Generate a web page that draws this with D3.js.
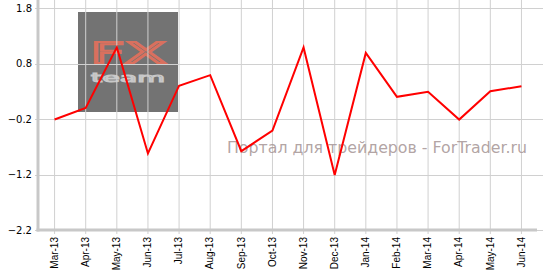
<!DOCTYPE html>
<html>
<head>
<meta charset="utf-8">
<script src="https://cdn.jsdelivr.net/npm/d3@7"></script>
<style>
    body { margin: 0; background: #fff; }
    svg { display: block; }
</style>
</head>
<body>
<div id="chart"></div>
<script>
'use strict';

const months = ["Mar-13", "Apr-13", "May-13", "Jun-13", "Jul-13", "Aug-13", "Sep-13", "Oct-13",
    "Nov-13", "Dec-13", "Jan-14", "Feb-14", "Mar-14", "Apr-14", "May-14", "Jun-14"];
const values = [-0.21, 0.0, 1.09, -0.82, 0.40, 0.59, -0.78, -0.41,
    1.09, -1.21, 0.99, 0.20, 0.29, -0.21, 0.30, 0.39];
const yTicks = [1.8, 0.8, -0.2, -1.2, -2.2];
const watermark = "Портал для трейдеров - ForTrader.ru";

const width = 543, height = 273;
const left = 39, right = 537, bottom = 230;

const svg = d3.select("#chart").append("svg")
    .attr("width", width)
    .attr("height", height);

const x = d3.scaleBand().domain(months).range([left, right]);
const y = d3.scaleLinear().domain([-2.2, 1.8]).range([bottom, 8]);

// logo box behind the grid
const logo = svg.append("g");
logo.append("rect")
    .attr("x", 78).attr("y", 12)
    .attr("width", 100).attr("height", 100)
    .attr("fill", "#737373");
logo.append("text")
    .attr("x", 128).attr("y", 63)
    .attr("text-anchor", "middle")
    .attr("font-family", "DejaVu Sans")
    .attr("font-size", 28)
    .attr("fill", "#737373")
    .attr("stroke", "#d9705e")
    .attr("stroke-width", 2)
    .attr("textLength", 76)
    .attr("lengthAdjust", "spacingAndGlyphs")
    .text("FX");
logo.append("text")
    .attr("x", 128).attr("y", 82)
    .attr("text-anchor", "middle")
    .attr("font-family", "DejaVu Sans")
    .attr("font-size", 12)
    .attr("fill", "#737373")
    .attr("stroke", "#c8c8c8")
    .attr("stroke-width", 1)
    .attr("textLength", 74)
    .attr("lengthAdjust", "spacingAndGlyphs")
    .text("team");

// grid
svg.append("g")
    .selectAll("line")
    .data(months)
    .join("line")
    .attr("x1", d => x(d) + x.bandwidth() / 2)
    .attr("x2", d => x(d) + x.bandwidth() / 2)
    .attr("y1", 0)
    .attr("y2", bottom + 4)
    .attr("stroke", "#d0d0d0");

svg.append("g")
    .selectAll("line")
    .data(yTicks)
    .join("line")
    .attr("x1", left - 4)
    .attr("x2", width)
    .attr("y1", d => Math.round(y(d)) + 0.5)
    .attr("y2", d => Math.round(y(d)) + 0.5)
    .attr("stroke", "#d0d0d0");

// axes
const yAxis = svg.append("g")
    .attr("transform", `translate(${left - 1},0)`)
    .call(d3.axisLeft(y).tickValues(yTicks).tickSize(0).tickPadding(6).tickFormat(d3.format(".1f")));
yAxis.select(".domain").remove();
yAxis.selectAll("text")
    .attr("font-family", "DejaVu Sans")
    .attr("font-size", 10)
    .attr("fill", "#000");

const xAxis = svg.append("g")
    .attr("transform", `translate(0,${bottom})`)
    .call(d3.axisBottom(x).tickSize(0).tickPadding(6));
xAxis.select(".domain").remove();
xAxis.selectAll("text")
    .attr("font-family", "Liberation Sans")
    .attr("font-size", 10)
    .attr("fill", "#000")
    .attr("text-anchor", "end")
    .attr("dy", "0.32em")
    .attr("transform", "rotate(-90)")
    .attr("x", -7)
    .attr("y", 0);

svg.append("line")
    .attr("x1", left - 1).attr("x2", left - 1)
    .attr("y1", 0).attr("y2", bottom + 1.5)
    .attr("stroke", "#c8c8c8").attr("stroke-width", 3);
svg.append("line")
    .attr("x1", left - 2.5).attr("x2", right)
    .attr("y1", bottom).attr("y2", bottom)
    .attr("stroke", "#c8c8c8").attr("stroke-width", 3);

// site watermark
svg.append("text")
    .attr("x", 227).attr("y", 153)
    .attr("font-family", "DejaVu Sans")
    .attr("font-size", 16)
    .attr("fill", "#a99999")
    .attr("fill-opacity", 0.9)
    .attr("textLength", 300)
    .attr("lengthAdjust", "spacingAndGlyphs")
    .text(watermark);

// series
const line = d3.line()
    .x((d, i) => x(months[i]) + x.bandwidth() / 2)
    .y(d => y(d));

svg.append("path")
    .datum(values)
    .attr("d", line)
    .attr("fill", "none")
    .attr("stroke", "#ff0000")
    .attr("stroke-width", 2)
    .attr("stroke-linejoin", "miter");
</script>
</body>
</html>
